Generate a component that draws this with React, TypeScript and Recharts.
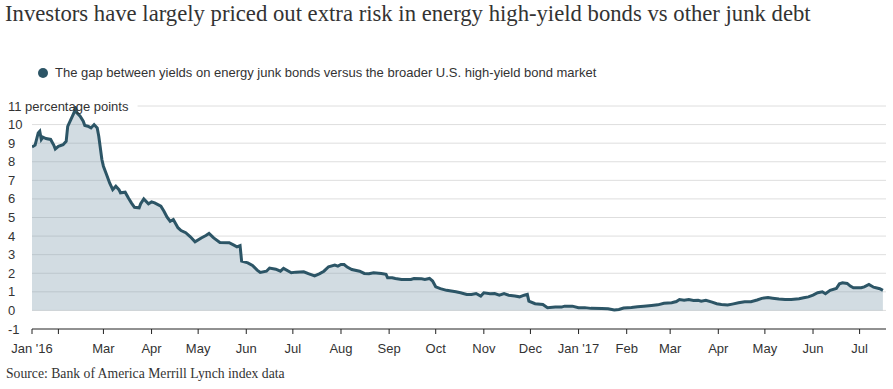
import React from 'react';
import { AreaChart, Area, XAxis, YAxis, CartesianGrid, ReferenceLine } from 'recharts';

// spread of energy junk bond yields over the broad US high-yield market, percentage points
const dates = [
    '2016-01-15', '2016-01-17', '2016-01-19', '2016-01-20', '2016-01-21', '2016-01-22', '2016-01-24', '2016-01-27',
    '2016-01-29', '2016-01-30', '2016-02-01', '2016-02-04', '2016-02-06', '2016-02-07', '2016-02-09', '2016-02-11',
    '2016-02-12', '2016-02-13', '2016-02-15', '2016-02-17', '2016-02-18', '2016-02-20', '2016-02-22', '2016-02-24',
    '2016-02-26', '2016-02-27', '2016-02-29', '2016-03-01', '2016-03-03', '2016-03-05', '2016-03-07', '2016-03-09',
    '2016-03-11', '2016-03-12', '2016-03-15', '2016-03-17', '2016-03-19', '2016-03-21', '2016-03-24', '2016-03-25',
    '2016-03-27', '2016-03-30', '2016-04-01', '2016-04-03', '2016-04-07', '2016-04-09', '2016-04-11', '2016-04-13',
    '2016-04-15', '2016-04-18', '2016-04-20', '2016-04-23', '2016-04-26', '2016-04-29', '2016-05-03', '2016-05-06',
    '2016-05-08', '2016-05-11', '2016-05-15', '2016-05-21', '2016-05-24', '2016-05-26', '2016-05-28', '2016-05-29',
    '2016-06-02', '2016-06-05', '2016-06-08', '2016-06-10', '2016-06-14', '2016-06-16', '2016-06-20', '2016-06-23',
    '2016-06-25', '2016-06-30', '2016-07-03', '2016-07-08', '2016-07-11', '2016-07-15', '2016-07-18', '2016-07-21',
    '2016-07-24', '2016-07-28', '2016-07-30', '2016-08-01', '2016-08-03', '2016-08-05', '2016-08-08', '2016-08-13',
    '2016-08-16', '2016-08-19', '2016-08-22', '2016-08-27', '2016-08-30', '2016-08-31', '2016-09-03', '2016-09-05',
    '2016-09-09', '2016-09-15', '2016-09-17', '2016-09-22', '2016-09-24', '2016-09-27', '2016-09-29', '2016-10-01',
    '2016-10-04', '2016-10-08', '2016-10-11', '2016-10-14', '2016-10-17', '2016-10-21', '2016-10-24', '2016-10-27',
    '2016-10-30', '2016-11-01', '2016-11-05', '2016-11-08', '2016-11-11', '2016-11-14', '2016-11-17', '2016-11-21',
    '2016-11-24', '2016-11-27', '2016-11-29', '2016-11-30', '2016-12-04', '2016-12-09', '2016-12-12', '2016-12-17',
    '2016-12-21', '2016-12-23', '2016-12-28', '2017-01-01', '2017-01-05', '2017-01-09', '2017-01-16', '2017-01-20',
    '2017-01-24', '2017-01-27', '2017-01-30', '2017-02-04', '2017-02-08', '2017-02-12', '2017-02-17', '2017-02-21',
    '2017-02-25', '2017-03-02', '2017-03-05', '2017-03-07', '2017-03-10', '2017-03-13', '2017-03-16', '2017-03-19',
    '2017-03-21', '2017-03-24', '2017-03-28', '2017-03-31', '2017-04-03', '2017-04-07', '2017-04-10', '2017-04-14',
    '2017-04-18', '2017-04-22', '2017-04-26', '2017-04-29', '2017-05-03', '2017-05-06', '2017-05-10', '2017-05-14',
    '2017-05-18', '2017-05-23', '2017-05-26', '2017-05-29', '2017-06-01', '2017-06-04', '2017-06-07', '2017-06-09',
    '2017-06-12', '2017-06-16', '2017-06-18', '2017-06-20', '2017-06-23', '2017-06-25', '2017-06-27', '2017-07-02',
    '2017-07-04', '2017-07-07', '2017-07-10', '2017-07-14', '2017-07-16',
];

const gap = [
    8.8, 8.9, 9.55, 9.64, 9.2, 9.32, 9.25, 9.2,
    8.9, 8.69, 8.83, 8.92, 9.1, 9.9, 10.27, 10.63,
    10.88, 10.63, 10.45, 10.18, 9.95, 9.91, 9.82, 10.0,
    9.82, 9.37, 8.12, 7.76, 7.31, 6.86, 6.5, 6.68,
    6.5, 6.33, 6.36, 6.06, 5.79, 5.55, 5.52, 5.74,
    6.0, 5.74, 5.84, 5.79, 5.61, 5.34, 5.02, 4.8,
    4.89, 4.45, 4.3, 4.18, 3.96, 3.69, 3.9, 4.03,
    4.14, 3.9, 3.66, 3.64, 3.51, 3.42, 3.49, 2.65,
    2.56, 2.42, 2.17, 2.04, 2.11, 2.28, 2.22, 2.11,
    2.26, 2.03, 2.06, 2.08, 1.98, 1.86, 1.97, 2.11,
    2.35, 2.44, 2.38, 2.47, 2.47, 2.33, 2.2, 2.11,
    1.99, 1.97, 2.03, 1.99, 1.94, 1.76, 1.76, 1.72,
    1.67, 1.67, 1.72, 1.7, 1.67, 1.72, 1.58, 1.27,
    1.17, 1.08, 1.04, 1.0, 0.95, 0.86, 0.86, 0.91,
    0.77, 0.95, 0.9, 0.91, 0.82, 0.9, 0.82, 0.77,
    0.73, 0.82, 0.86, 0.5, 0.36, 0.32, 0.15, 0.18,
    0.18, 0.23, 0.23, 0.15, 0.15, 0.11, 0.1, 0.09,
    0.02, 0.05, 0.13, 0.16, 0.2, 0.23, 0.27, 0.3,
    0.38, 0.41, 0.48, 0.59, 0.55, 0.59, 0.54, 0.55,
    0.5, 0.55, 0.45, 0.36, 0.32, 0.29, 0.34, 0.41,
    0.47, 0.47, 0.56, 0.65, 0.7, 0.66, 0.61, 0.59,
    0.59, 0.63, 0.68, 0.73, 0.82, 0.95, 1.0, 0.9,
    1.08, 1.18, 1.43, 1.49, 1.45, 1.31, 1.22, 1.22,
    1.27, 1.4, 1.25, 1.17, 1.08,
];

const tickDates = [
    '2016-01-15', '2016-02-01', '2016-03-01', '2016-04-01', '2016-05-01', '2016-06-01', '2016-07-01',
    '2016-08-01', '2016-09-01', '2016-10-01', '2016-11-01', '2016-12-01', '2017-01-01', '2017-02-01',
    '2017-03-01', '2017-04-01', '2017-05-01', '2017-06-01', '2017-07-01',
];
const tickLabels = [
    "Jan '16", '', 'Mar', 'Apr', 'May', 'Jun', 'Jul', 'Aug', 'Sep', 'Oct', 'Nov', 'Dec',
    "Jan '17", 'Feb', 'Mar', 'Apr', 'May', 'Jun', 'Jul',
];
const yTicks = [-1, 0, 1, 2, 3, 4, 5, 6, 7, 8, 9, 10, 11];
const gridValues = [0, 1, 2, 3, 4, 5, 6, 7, 8, 9, 10];

const data = dates.map((d, i) => ({ t: Date.parse(d), gap: gap[i] }));
const xTicks = tickDates.map(d => Date.parse(d));
const domainStart = Date.parse('2016-01-15');
const domainEnd = Date.parse('2017-07-18');
// top gridline starts after the "11 percentage points" label
const topLineStart = Date.parse('2016-03-23');

const SANS = '"Liberation Sans", Arial, sans-serif';
const SERIF = '"Liberation Serif", "Times New Roman", serif';
const LINE = '#2c5566';
const TEXT = '#333';
const GRID = '#dedede';

const YTick = (props: any) => {
    const { y, payload } = props;
    const v = payload.value;
    const label = v === 11 ? '11 percentage points' : String(v);
    return <text x={8} y={y} dy="0.35em" fontSize={13} fontFamily={SANS} fill={TEXT}>{label}</text>;
};

const formatX = (t: number) => {
    const i = xTicks.indexOf(t);
    return i >= 0 ? tickLabels[i] : '';
};

export default function App() {
    return (
        <div style={{ position: 'absolute', left: 0, top: 0, width: 893, height: 389, background: '#fff' }}>
            <div style={{ position: 'absolute', left: 5, top: 1, fontFamily: SERIF, fontSize: 22.7, color: TEXT, whiteSpace: 'nowrap' }}>
                Investors have largely priced out extra risk in energy high-yield bonds vs other junk debt
            </div>
            <div style={{ position: 'absolute', left: 38, top: 65, display: 'flex', alignItems: 'center', fontFamily: SANS, fontSize: 13, color: TEXT, whiteSpace: 'nowrap' }}>
                <span style={{ display: 'inline-block', width: 10, height: 10, borderRadius: 5, background: LINE, marginRight: 7 }} />
                The gap between yields on energy junk bonds versus the broader U.S. high-yield bond market
            </div>
            <div style={{ position: 'absolute', left: 0, top: 0 }}>
                <AreaChart width={893} height={389} data={data} margin={{ top: 106, right: 7, bottom: 27, left: 0 }}>
                    <CartesianGrid vertical={false} stroke={GRID} horizontalValues={gridValues} />
                    <ReferenceLine
                        segment={[{ x: topLineStart, y: 11 }, { x: domainEnd, y: 11 }]}
                        stroke={GRID}
                        ifOverflow="visible"
                    />
                    <YAxis
                        type="number"
                        domain={[-1, 11]}
                        ticks={yTicks}
                        interval={0}
                        width={32}
                        axisLine={false}
                        tickLine={false}
                        tick={<YTick />}
                        allowDataOverflow
                    />
                    <XAxis
                        dataKey="t"
                        type="number"
                        domain={[domainStart, domainEnd]}
                        ticks={xTicks}
                        interval={0}
                        tickFormatter={formatX}
                        height={33}
                        tickSize={5}
                        tickMargin={10}
                        stroke="#222"
                        tick={{ fontSize: 13, fontFamily: SANS, fill: TEXT }}
                        allowDataOverflow
                    />
                    <Area
                        type="linear"
                        dataKey="gap"
                        stroke={LINE}
                        strokeWidth={3}
                        fill="#7e9bad"
                        fillOpacity={0.35}
                        isAnimationActive={false}
                        dot={false}
                        activeDot={false}
                    />
                </AreaChart>
            </div>
            <div style={{ position: 'absolute', left: 6, top: 366, fontFamily: SERIF, fontSize: 13.7, color: TEXT, whiteSpace: 'nowrap' }}>
                Source: Bank of America Merrill Lynch index data
            </div>
        </div>
    );
}
